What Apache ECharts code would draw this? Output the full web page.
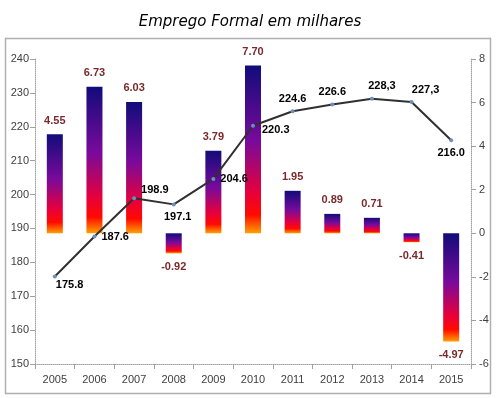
<!DOCTYPE html>
<html><head><meta charset="utf-8">
<script src="https://cdn.jsdelivr.net/npm/echarts@6/dist/echarts.min.js"></script>
<style>html,body{margin:0;padding:0;background:#fff}#c{width:500px;height:398px}</style>
</head><body><div id="c"></div>
<script>
var years = ['2005','2006','2007','2008','2009','2010','2011','2012','2013','2014','2015'];
var variation = [4.55, 6.73, 6.03, -0.92, 3.79, 7.70, 1.95, 0.89, 0.71, -0.41, -4.97];
var employment = [175.8, 187.6, 198.9, 197.1, 204.6, 220.3, 224.6, 226.6, 228.3, 227.3, 216.0];
var employmentLabels = ['175.8','187.6','198.9','197.1','204.6','220.3','224.6','226.6','228,3','227,3','216.0'];
var leftTicks = {min:150, max:240, interval:10};
var rightTicks = {min:-6, max:8, interval:2};

var lineLabelPos = [
  {position:'right', offset:[-6,8]},
  {position:'right', offset:[0,0]},
  {position:'right', offset:[0,-8]},
  {position:'bottom', offset:[4,0]},
  {position:'right', offset:[0,0]},
  {position:'right', offset:[2,4]},
  {position:'top', offset:[0,0]},
  {position:'top', offset:[0,0]},
  {position:'top', offset:[10,0]},
  {position:'top', offset:[14,0]},
  {position:'bottom', offset:[0,0]}
];

var grad = new echarts.graphic.LinearGradient(0,0,0,1,[
  {offset:0, color:'#110c7a'},
  {offset:0.45, color:'#780a9c'},
  {offset:0.76, color:'#e8003a'},
  {offset:0.89, color:'#ff0a00'},
  {offset:1, color:'#ffa000'}
]);

var chart = echarts.init(document.getElementById('c'));
var axisTxt = {color:'#404040', fontSize:11, fontFamily:'Liberation Sans'};
chart.setOption({
  animation:false,
  title:{text:'Emprego Formal em milhares', left:'center', top:10,
    textStyle:{fontFamily:'DejaVu Sans', fontStyle:'italic', fontWeight:'normal', fontSize:15, color:'#000'}},
  graphic:[{type:'rect', shape:{x:5.5, y:38.5, width:485, height:355},
    style:{fill:'none', stroke:'#b0b0b0', lineWidth:1.5}, silent:true}],
  grid:{left:35, right:29, top:59, bottom:34},
  xAxis:{type:'category', data:years,
    axisLine:{onZero:false, lineStyle:{color:'#a0a0a0', type:'dotted'}},
    axisTick:{show:true, lineStyle:{color:'#a0a0a0'}},
    axisLabel:Object.assign({margin:10}, axisTxt)},
  yAxis:[
    {type:'value', min:leftTicks.min, max:leftTicks.max, interval:leftTicks.interval, position:'left',
      axisLine:{show:true, lineStyle:{color:'#a0a0a0', type:'dotted'}},
      axisTick:{show:true, lineStyle:{color:'#a0a0a0'}},
      splitLine:{show:false}, axisLabel:Object.assign({margin:6}, axisTxt)},
    {type:'value', min:rightTicks.min, max:rightTicks.max, interval:rightTicks.interval, position:'right',
      axisLine:{show:true, lineStyle:{color:'#a0a0a0', type:'dotted'}},
      axisTick:{show:true, lineStyle:{color:'#a0a0a0'}},
      splitLine:{show:false}, axisLabel:Object.assign({margin:8}, axisTxt)}
  ],
  series:[
    {type:'bar', yAxisIndex:1, barWidth:16,
      data:variation.map(function(v){
        return {value:v, itemStyle:{color:grad},
          label:{show:true, position: v>=0?'top':'bottom', distance:8,
            formatter: v.toFixed(2), color:'#7a2a2a', fontWeight:'bold', fontSize:11, fontFamily:'Liberation Sans'}};
      })},
    {type:'line', yAxisIndex:0, symbol:'circle', symbolSize:4,
      itemStyle:{color:'#6a8fc0'}, lineStyle:{color:'#303030', width:2},
      data:employment.map(function(v,i){
        return {value:v, label:Object.assign({show:true, formatter:employmentLabels[i], distance:5,
          color:'#000', fontWeight:'bold', fontSize:11, fontFamily:'Liberation Sans'}, lineLabelPos[i])};
      })}
  ]
});
</script></body></html>
